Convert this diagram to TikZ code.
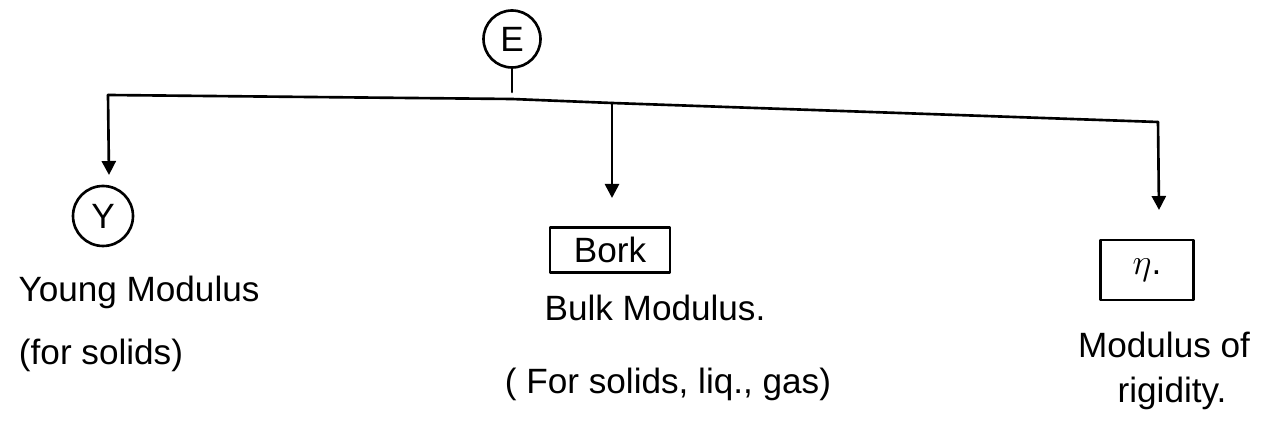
\documentclass[tikz,border=0pt]{standalone}
\usepackage{fontspec}
\setmainfont{Liberation Sans}
\usetikzlibrary{arrows.meta}
\begin{document}
\begin{tikzpicture}[x=0.02cm,y=-0.02cm, line width=1.5pt, line cap=round, line join=round,
  circ/.style={draw, circle, inner sep=0pt, font=\fontsize{20}{22}\selectfont},
  boxn/.style={draw, rectangle, inner sep=0pt, font=\fontsize{20}{22}\selectfont},
  lbl/.style={inner sep=0pt, font=\fontsize{20}{24}\selectfont},
  arr/.style={-{Triangle[length=0.28cm,width=0.28cm]}}]
\useasboundingbox (0,0) rectangle (1263,421);
% nodes
\node[circ, minimum size=1.14cm] (E) at (512,39) {E};
\node[circ, minimum size=1.2cm] (Y) at (103,216) {Y};
\node[boxn, minimum width=2.4cm, minimum height=0.9cm] (K) at (610,250) {Bork};
\node[boxn, minimum width=1.86cm, minimum height=1.2cm] (N) at (1147,270) {$\eta$.};
% labels
\node[lbl] (y1) at (139,292) {Young Modulus};
\node[lbl] (y2) at (101,355) {(for solids)};
\node[lbl] (k1) at (655,308) {Bulk Modulus.};
\node[lbl] (k2) at (668,384) {( For solids, liq., gas)};
\node[lbl] (n1) at (1164,345) {Modulus of};
\node[lbl] (n2) at (1172,393) {rigidity.};
% connector coordinates
\coordinate (tickend) at (512,92);
\coordinate (L) at (108,95);
\coordinate (C) at (512,99);
\coordinate (M) at (612,103);
\coordinate (R) at (1158,122);
\coordinate (ta) at (109,175);
\coordinate (tb) at (612,198);
\coordinate (tc) at (1159,210);
% connectors
\draw (E) -- (tickend);
\draw (L) -- (C) -- (M) -- (R);
\draw[arr] (L) -- (ta);
\draw[arr] (M) -- (tb);
\draw[arr] (R) -- (tc);
\end{tikzpicture}
\end{document}
